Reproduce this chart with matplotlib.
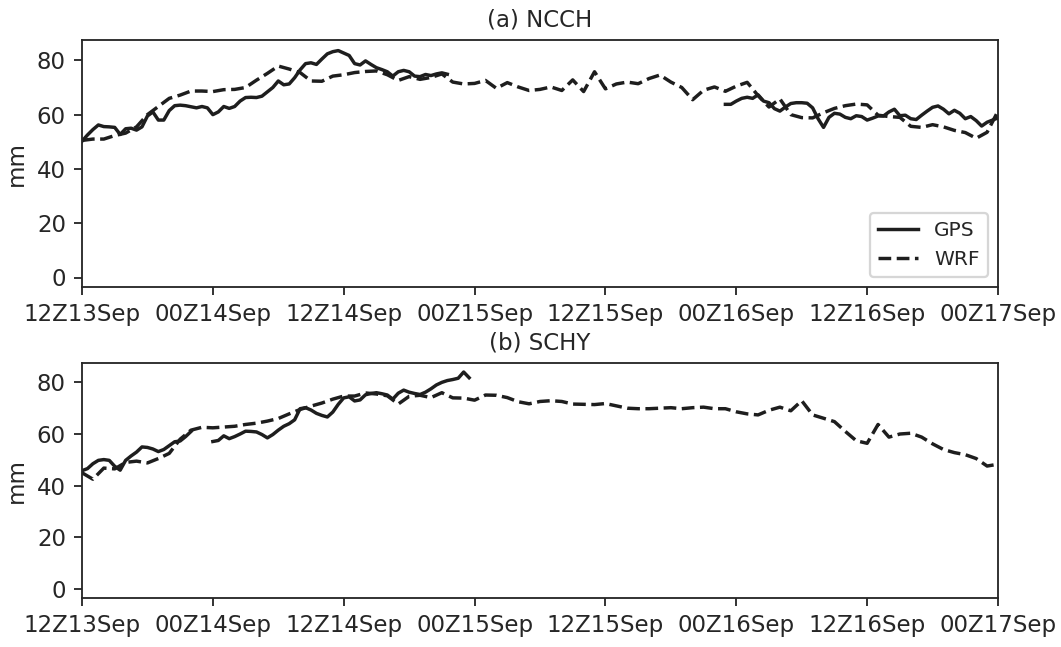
import numpy as np
import matplotlib
matplotlib.use("Agg")
import matplotlib.pyplot as plt

# Hours since 12Z13Sep
tick_hours = [0, 12, 24, 36, 48, 60, 72, 84]
tick_labels = ["12Z13Sep", "00Z14Sep", "12Z14Sep", "00Z15Sep",
               "12Z15Sep", "00Z16Sep", "12Z16Sep", "00Z17Sep"]

nan = np.nan

# GPS precipitable water, half-hourly (NaN = missing)
gps_ncch_a = [50.2, 52.5, 54.5, 56.2, 55.6, 55.5, 55.3, 52.7, 54.8, 55.0,
              54.3, 55.5, 59.5, 61.0, 58.0, 58.0, 61.5, 63.3, 63.5, 63.3,
              62.9, 62.5, 63.0, 62.5, 60.0, 61.0, 63.0, 62.3, 63.0, 65.0,
              66.3, 66.4, 66.3, 66.8, 68.4, 70.0, 72.4, 71.0, 71.3, 73.6,
              76.5, 78.8, 79.1, 78.5, 80.5, 82.4, 83.2, 83.6, 82.7, 81.8,
              78.8, 78.3, 79.8, 78.5, 77.3, 76.6, 75.8, 74.2, 75.8, 76.3,
              75.8, 74.2, 74.0, 74.8, 74.4, 75.0, 75.4, 74.9]
gps_ncch_b = [63.8, 63.8, 65.0, 66.0, 66.4, 66.0, 67.3, 65.0, 64.4, 62.2,
              61.3, 62.8, 64.1, 64.4, 64.4, 64.2, 62.5, 58.5, 55.3, 59.0,
              60.5, 60.2, 59.0, 58.5, 59.6, 59.3, 58.0, 58.7, 59.5, 59.5,
              61.0, 62.0, 59.6, 59.8, 58.5, 58.2, 59.8, 61.3, 62.7, 63.2,
              62.0, 60.3, 61.6, 60.5, 58.5, 59.3, 57.8, 55.8, 57.2, 58.0,
              58.8, 59.5]
gps_ncch = gps_ncch_a + [nan] * 50 + gps_ncch_b

gps_schy_a = [45.8, 46.6, 48.5, 49.8, 50.1, 49.8, 47.5, 46.0, 49.8, 51.5,
              53.0, 55.0, 54.8, 54.2, 53.2, 54.0, 55.5, 57.0, 57.3, 59.0,
              61.0]
gps_schy_b = [57.1, 57.5, 59.3, 58.2, 59.0, 60.0, 61.1, 61.0, 60.8, 59.8,
              58.5, 59.8, 61.5, 63.0, 64.0, 65.5, 69.8, 70.2, 69.3, 68.0,
              67.2, 66.6, 68.5, 71.5, 74.0, 74.4, 72.8, 73.2, 75.2, 75.7,
              76.0, 75.6, 75.1, 73.5, 75.8, 77.0, 76.2, 75.7, 75.3, 76.2,
              77.5, 79.0, 80.0, 80.7, 81.1, 81.6, 84.0, 81.8]
gps_schy = gps_schy_a + [nan] * 3 + gps_schy_b
gps_schy = gps_schy + [nan] * (169 - len(gps_schy))

# WRF precipitable water, hourly
wrf_ncch = [50.5, 51.0, 51.0, 52.3, 53.2, 55.5, 60.0, 63.0, 66.0, 67.2,
            68.7, 68.7, 68.5, 69.2, 69.3, 70.0, 72.7, 75.2, 77.9, 76.8,
            75.5, 72.4, 72.3, 74.2, 74.7, 75.5, 75.9, 76.1, 74.7, 72.6,
            74.0, 73.0, 73.7, 75.0, 72.0, 71.3, 71.5, 72.6, 69.7, 71.8,
            70.2, 68.9, 69.3, 70.2, 68.9, 72.8, 68.5, 75.8, 69.5, 71.3,
            72.0, 71.4, 73.3, 74.6, 72.0, 70.0, 65.5, 69.0, 70.2, 68.6,
            70.5, 71.9, 67.0, 62.8, 65.8, 60.0, 58.9, 58.8, 60.7, 62.3,
            63.3, 63.9, 63.6, 59.8, 59.3, 59.0, 55.7, 55.3, 56.3, 55.5,
            54.2, 53.4, 51.3, 53.5, 61.3]
wrf_schy = [45.0, 42.5, 46.8, 46.5, 49.0, 49.5, 48.8, 50.5, 52.5, 58.0,
            61.5, 62.6, 62.4, 62.7, 63.0, 63.7, 64.2, 65.0, 66.0, 67.8,
            69.5, 70.8, 72.0, 73.5, 74.7, 74.7, 75.9, 75.5, 74.8, 71.6,
            74.6, 75.0, 74.1, 76.0, 74.0, 73.9, 73.1, 75.1, 75.0, 74.1,
            72.5, 71.7, 72.6, 72.9, 72.6, 71.6, 71.5, 71.4, 71.8, 70.9,
            70.0, 69.8, 69.8, 70.0, 70.2, 69.8, 70.2, 70.4, 69.8, 69.8,
            68.6, 67.8, 67.4, 69.2, 70.4, 69.0, 72.9, 67.4, 66.1, 64.8,
            61.0, 57.4, 56.4, 63.7, 58.8, 60.0, 60.3, 58.8, 56.2, 54.0,
            52.8, 52.0, 50.5, 47.6, 48.3]

stations = ["(a) NCCH", "(b) SCHY"]
gps_series = [gps_ncch, gps_schy]
wrf_series = [wrf_ncch, wrf_schy]

ink = "#262626"
line_col = "#1e1e1e"
plt.rcParams.update({
    "font.family": "DejaVu Sans",
    "font.size": 10,
    "text.color": ink,
    "axes.labelcolor": ink,
    "axes.edgecolor": ink,
    "xtick.color": ink,
    "ytick.color": ink,
})

dpi = 165
fig = plt.figure(figsize=(1061 / dpi, 647 / dpi), dpi=dpi)
left, width = 82 / 1061, 916 / 1061
# (bottom, height) of each panel in figure fractions
panels = [(1 - 287 / 647, 247 / 647), (1 - 598 / 647, 235 / 647)]

for i in range(2):
    ax = fig.add_axes([left, panels[i][0], width, panels[i][1]])
    gps = np.array(gps_series[i], dtype=float)
    wrf = np.array(wrf_series[i], dtype=float)
    t_gps = np.arange(len(gps)) * 0.5
    t_wrf = np.arange(len(wrf)) * 1.0
    ax.plot(t_gps, gps, color=line_col, lw=1.5, ls="-", label="GPS")
    ax.plot(t_wrf, wrf, color=line_col, lw=1.5, ls="--", label="WRF")
    ax.set_xlim(0, 84)
    ax.set_ylim(-3.5, 87.5)
    ax.set_yticks([0, 20, 40, 60, 80])
    ax.set_xticks(tick_hours)
    ax.set_xticklabels(tick_labels)
    ax.set_ylabel("mm")
    ax.set_title(stations[i], fontsize=10)
    if i == 0:
        ax.legend(loc="lower right", fontsize=8.8)

fig.savefig("out.png", dpi=dpi)
